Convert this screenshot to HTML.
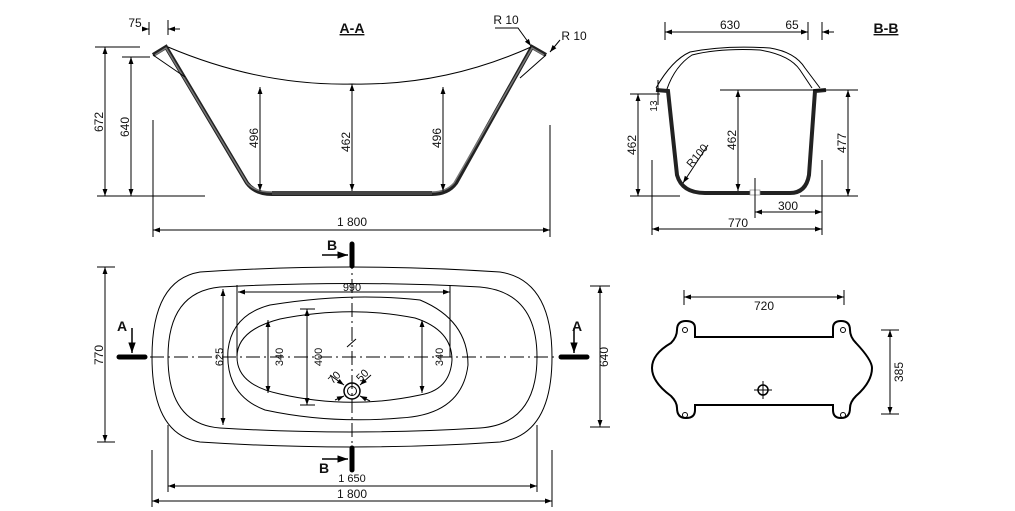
<!DOCTYPE html>
<html><head><meta charset="utf-8"><style>
html,body{margin:0;padding:0;background:#fff;width:1015px;height:511px;overflow:hidden}
svg{display:block}
text{font-family:"Liberation Sans",sans-serif;font-size:12px;fill:#111}
</style></head><body>
<svg width="1015" height="511" viewBox="0 0 1015 511" xmlns="http://www.w3.org/2000/svg">
<defs>
<marker id="a" viewBox="0 0 10 10" refX="10" refY="5" markerWidth="10" markerHeight="7" orient="auto-start-reverse"><path d="M0,1.5 L10,5 L0,8.5z" fill="#000"/></marker>
</defs>
<g fill="none" stroke="#000" stroke-width="1">
<!-- A-A section -->
<path d="M153,55 L166,47 L247,183 Q255,194 272,194 L432,194 Q448,194 456,183 L532,47 L546,55" stroke-width="4" stroke="#222"/>
<path d="M155,55 L166,48 L247,183 Q255,192 272,192 L432,192 Q446,192 454,183 L532,48 L544,55" stroke="#777" stroke-width="1.5"/>
<path d="M168,47 Q260,86 352,84 Q444,86 531,47"/>
<path d="M153,55 L185,77 M546,55 L520,78"/>
<line x1="97" y1="196" x2="205" y2="196"/>
<line x1="95" y1="47" x2="140" y2="47"/>
<line x1="122" y1="57" x2="150" y2="57"/>
<line x1="105" y1="47" x2="105" y2="196" marker-start="url(#a)" marker-end="url(#a)"/>
<line x1="131" y1="57" x2="131" y2="196" marker-start="url(#a)" marker-end="url(#a)"/>
<line x1="260" y1="87" x2="260" y2="191" marker-start="url(#a)" marker-end="url(#a)"/>
<line x1="352" y1="84" x2="352" y2="191" marker-start="url(#a)" marker-end="url(#a)"/>
<line x1="443" y1="87" x2="443" y2="191" marker-start="url(#a)" marker-end="url(#a)"/>
<line x1="153" y1="120" x2="153" y2="237"/>
<line x1="550" y1="125" x2="550" y2="237"/>
<line x1="153" y1="230" x2="550" y2="230" marker-start="url(#a)" marker-end="url(#a)"/>
<line x1="149" y1="22" x2="149" y2="35"/><line x1="168" y1="20" x2="168" y2="35"/>
<line x1="143" y1="29" x2="149" y2="29" marker-end="url(#a)"/><line x1="180" y1="29" x2="168" y2="29" marker-end="url(#a)"/>
<path d="M495,28 L518,28 L531,46" marker-end="url(#a)"/>
<path d="M560,40 L550,52" marker-end="url(#a)"/>
<!-- B-B section -->
<path d="M656,90 L668,91 L677,175 Q682,193 705,193 L790,193 Q806,193 809,175 L815,91 L826,90" stroke-width="4" stroke="#222"/>
<path d="M656,88 Q672,60 690,52 Q725,45 770,48 Q795,52 805,68 L820,88"/>
<path d="M667,89 Q675,66 692,55 Q720,48 760,50 Q790,55 800,70 L812,88"/>
<rect x="750" y="190" width="10" height="5" fill="#fff" stroke="#888" stroke-width="0.7"/>
<line x1="665" y1="22" x2="665" y2="40"/><line x1="808" y1="22" x2="808" y2="40"/><line x1="822" y1="22" x2="822" y2="40"/>
<line x1="665" y1="32" x2="808" y2="32" marker-start="url(#a)" marker-end="url(#a)"/>
<line x1="834" y1="32" x2="822" y2="32" marker-end="url(#a)"/>
<line x1="630" y1="94" x2="660" y2="94"/><line x1="630" y1="196" x2="680" y2="196"/>
<line x1="638" y1="94" x2="638" y2="196" marker-start="url(#a)" marker-end="url(#a)"/>
<line x1="720" y1="90" x2="858" y2="90"/><line x1="800" y1="196" x2="858" y2="196"/>
<line x1="738" y1="90" x2="738" y2="191" marker-start="url(#a)" marker-end="url(#a)"/>
<line x1="848" y1="90" x2="848" y2="196" marker-start="url(#a)" marker-end="url(#a)"/>
<line x1="658" y1="80" x2="658" y2="105"/>
<line x1="755" y1="178" x2="755" y2="218"/><line x1="822" y1="160" x2="822" y2="235"/><line x1="652" y1="160" x2="652" y2="235"/>
<line x1="755" y1="212" x2="822" y2="212" marker-start="url(#a)" marker-end="url(#a)"/>
<line x1="652" y1="229" x2="822" y2="229" marker-start="url(#a)" marker-end="url(#a)"/>
<line x1="708" y1="145" x2="683" y2="183" marker-end="url(#a)"/>
<!-- plan view -->
<path d="M200,272 Q352,262 500,272 Q552,280 552,357 Q552,435 500,442 Q352,452 200,442 Q152,435 152,357 Q152,280 200,272z"/>
<path d="M220,287 Q352,280 480,287 Q537,292 537,357 Q537,424 480,428 Q352,436 220,428 Q168,424 168,357 Q168,292 220,287z"/>
<path d="M270,305 Q350,292 420,300 Q468,320 468,365 Q462,415 400,418 Q330,424 265,410 Q225,395 228,350 Q232,315 270,305z"/>
<path d="M280,319 Q350,305 415,318 Q452,330 452,360 Q450,390 420,395 Q350,410 280,394 Q237,385 237,357 Q237,330 280,319z"/>
<line x1="150" y1="357" x2="555" y2="357" stroke-dasharray="14,4,2,4"/>
<line x1="352" y1="255" x2="352" y2="460" stroke-dasharray="14,4,2,4"/>
<line x1="347" y1="347" x2="356" y2="339"/>
<circle cx="352" cy="391" r="8" stroke-width="1.5"/><circle cx="352" cy="391" r="4.5"/>
<line x1="330" y1="375" x2="344" y2="385" marker-end="url(#a)"/><line x1="371" y1="375" x2="360" y2="385" marker-end="url(#a)"/>
<line x1="370" y1="401" x2="360" y2="396" marker-end="url(#a)"/><line x1="335" y1="400" x2="344" y2="396" marker-end="url(#a)"/>
<line x1="97" y1="267" x2="115" y2="267"/><line x1="97" y1="442" x2="115" y2="442"/>
<line x1="105" y1="267" x2="105" y2="442" marker-start="url(#a)" marker-end="url(#a)"/>
<line x1="590" y1="286" x2="610" y2="286"/><line x1="590" y1="427" x2="610" y2="427"/>
<line x1="600" y1="286" x2="600" y2="427" marker-start="url(#a)" marker-end="url(#a)"/>
<line x1="223" y1="289" x2="223" y2="425" marker-start="url(#a)" marker-end="url(#a)"/>
<line x1="237" y1="285" x2="237" y2="357"/><line x1="450" y1="285" x2="450" y2="357"/>
<line x1="238" y1="292" x2="450" y2="292" marker-start="url(#a)" marker-end="url(#a)"/>
<line x1="268" y1="320" x2="268" y2="393" marker-start="url(#a)" marker-end="url(#a)"/>
<line x1="300" y1="309" x2="315" y2="309"/><line x1="300" y1="405" x2="315" y2="405"/>
<line x1="307" y1="309" x2="307" y2="405" marker-start="url(#a)" marker-end="url(#a)"/>
<line x1="422" y1="320" x2="422" y2="393" marker-start="url(#a)" marker-end="url(#a)"/>
<line x1="168" y1="425" x2="168" y2="492"/><line x1="537" y1="425" x2="537" y2="492"/>
<line x1="152" y1="450" x2="152" y2="507"/><line x1="552" y1="450" x2="552" y2="507"/>
<line x1="168" y1="486" x2="537" y2="486" marker-start="url(#a)" marker-end="url(#a)"/>
<line x1="152" y1="501" x2="552" y2="501" marker-start="url(#a)" marker-end="url(#a)"/>
<!-- section markers -->
<line x1="119" y1="357" x2="145" y2="357" stroke-width="5" stroke-linecap="round"/>
<line x1="561" y1="357" x2="587" y2="357" stroke-width="5" stroke-linecap="round"/>
<line x1="132" y1="328" x2="132" y2="353" marker-end="url(#a)" stroke-width="1.5"/>
<line x1="574" y1="328" x2="574" y2="353" marker-end="url(#a)" stroke-width="1.5"/>
<line x1="352" y1="244" x2="352" y2="266" stroke-width="5" stroke-linecap="round"/>
<line x1="352" y1="448" x2="352" y2="470" stroke-width="5" stroke-linecap="round"/>
<line x1="322" y1="255" x2="348" y2="255" marker-end="url(#a)" stroke-width="1.5"/>
<line x1="322" y1="459" x2="348" y2="459" marker-end="url(#a)" stroke-width="1.5"/>
<!-- plate -->
<path d="M695,337 L833,337 L833,328 Q833,321 841,321 Q850,321 850,330 Q850,337 856,343 Q872,360 872,368 Q872,382 856,396 Q850,402 850,408 Q850,418 841,418 Q833,418 833,410 L833,405 L695,405 L695,410 Q695,418 686,418 Q677,418 677,408 Q677,402 671,396 Q652,382 652,368 Q652,354 671,343 Q677,337 677,330 Q677,321 686,321 Q695,321 695,328z" stroke-width="2"/>
<circle cx="685" cy="330" r="2.5"/><circle cx="843" cy="330" r="2.5"/><circle cx="685" cy="415" r="2.5"/><circle cx="843" cy="415" r="2.5"/>
<circle cx="763" cy="390" r="5" stroke-width="1.5"/><line x1="754" y1="390" x2="772" y2="390"/><line x1="763" y1="381" x2="763" y2="399"/>
<line x1="684" y1="290" x2="684" y2="305"/><line x1="844" y1="290" x2="844" y2="305"/>
<line x1="684" y1="297" x2="844" y2="297" marker-start="url(#a)" marker-end="url(#a)"/>
<line x1="881" y1="330" x2="899" y2="330"/><line x1="881" y1="414" x2="899" y2="414"/>
<line x1="890" y1="330" x2="890" y2="414" marker-start="url(#a)" marker-end="url(#a)"/>
</g>
<!-- hatch bottoms -->
<rect x="272" y="191" width="160" height="4" fill="#444"/>
<!-- labels -->
<text x="352" y="33" text-anchor="middle" style="font-weight:bold;font-size:14px;text-decoration:underline">A-A</text>
<text x="886" y="33" text-anchor="middle" style="font-weight:bold;font-size:14px;text-decoration:underline">B-B</text>
<text x="135" y="27" text-anchor="middle">75</text>
<text x="506" y="24" text-anchor="middle">R 10</text>
<text x="574" y="40" text-anchor="middle">R 10</text>
<text x="352" y="226" text-anchor="middle">1 800</text>
<text transform="translate(103,122) rotate(-90)" text-anchor="middle">672</text>
<text transform="translate(129,127) rotate(-90)" text-anchor="middle">640</text>
<text transform="translate(258,138) rotate(-90)" text-anchor="middle">496</text>
<text transform="translate(350,142) rotate(-90)" text-anchor="middle">462</text>
<text transform="translate(441,138) rotate(-90)" text-anchor="middle">496</text>
<text x="730" y="29" text-anchor="middle">630</text>
<text x="792" y="29" text-anchor="middle">65</text>
<text transform="translate(636,145) rotate(-90)" text-anchor="middle">462</text>
<text transform="translate(736,140) rotate(-90)" text-anchor="middle">462</text>
<text transform="translate(846,143) rotate(-90)" text-anchor="middle">477</text>
<text transform="translate(657,106) rotate(-90)" text-anchor="middle" style="font-size:10px">13</text>
<text transform="translate(700,158) rotate(-50)" text-anchor="middle" style="font-size:11px">R100</text>
<text x="788" y="210" text-anchor="middle">300</text>
<text x="738" y="227" text-anchor="middle">770</text>
<text x="327" y="250" style="font-weight:bold;font-size:14px">B</text>
<text x="319" y="473" style="font-weight:bold;font-size:14px">B</text>
<text x="117" y="331" style="font-weight:bold;font-size:14px">A</text>
<text x="572" y="331" style="font-weight:bold;font-size:14px">A</text>
<text x="352" y="291" text-anchor="middle" style="font-size:11px">990</text>
<text transform="translate(103,355) rotate(-90)" text-anchor="middle">770</text>
<text transform="translate(608,357) rotate(-90)" text-anchor="middle">640</text>
<text transform="translate(223,357) rotate(-90)" text-anchor="middle" style="font-size:11px">625</text>
<text transform="translate(283,357) rotate(-90)" text-anchor="middle" style="font-size:11px">340</text>
<text transform="translate(322,357) rotate(-90)" text-anchor="middle" style="font-size:11px">400</text>
<text transform="translate(443,357) rotate(-90)" text-anchor="middle" style="font-size:11px">340</text>
<text transform="translate(337,380) rotate(-45)" text-anchor="middle" style="font-size:11px">70</text>
<text transform="translate(365,378) rotate(-45)" text-anchor="middle" style="font-size:11px">50</text>
<text x="352" y="482" text-anchor="middle" style="font-size:11px">1 650</text>
<text x="352" y="498" text-anchor="middle">1 800</text>
<text x="764" y="310" text-anchor="middle">720</text>
<text transform="translate(903,372) rotate(-90)" text-anchor="middle">385</text>
</svg>
</body></html>
